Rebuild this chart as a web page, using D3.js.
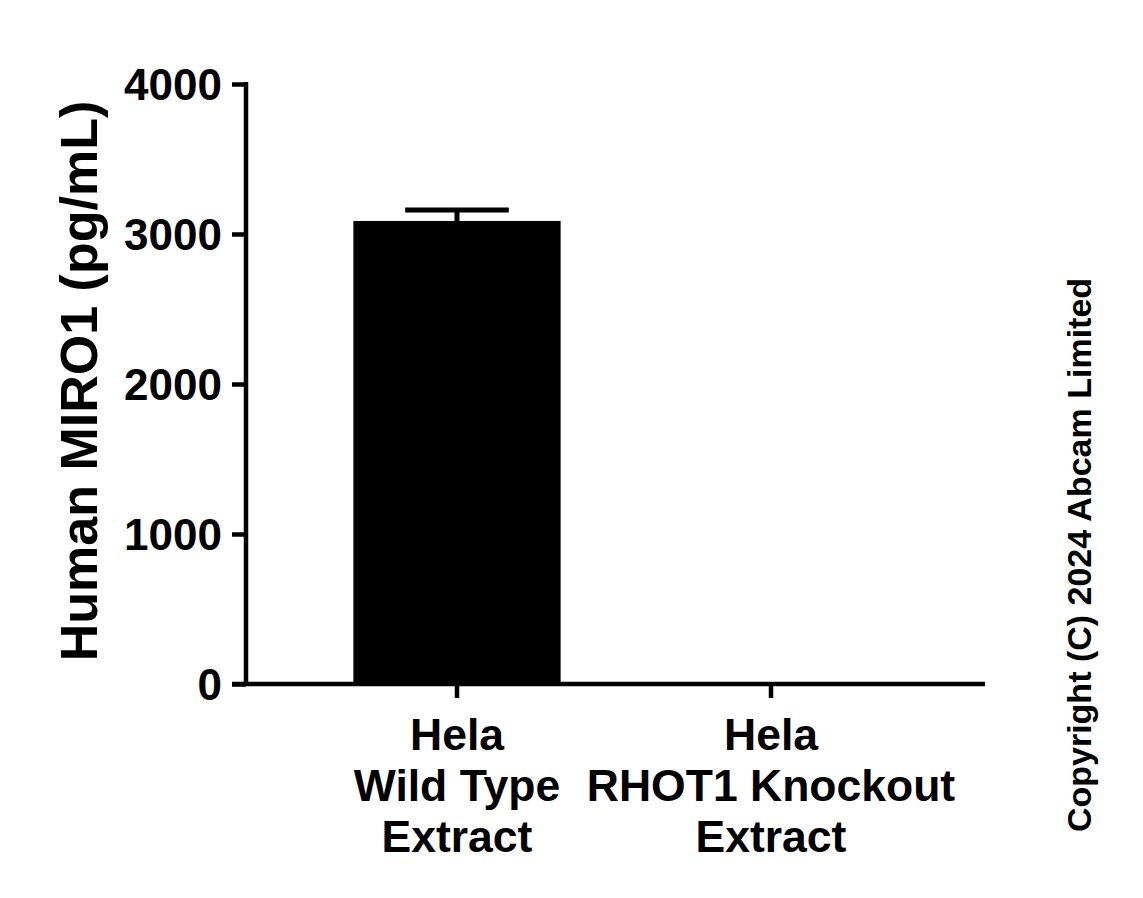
<!DOCTYPE html>
<html>
<head>
<meta charset="utf-8">
<script src="https://cdn.jsdelivr.net/npm/d3@7"></script>
<style>
  html, body { margin: 0; padding: 0; background: #fff; }
  text { font-family: "Liberation Sans", Arial, sans-serif; font-weight: bold; fill: #000; }
</style>
</head>
<body>
<div id="chart"></div>
<script>
// data
const categories = ["wt", "ko"];
const categoryLabels = [
  ["Hela", "Wild Type", "Extract"],
  ["Hela", "RHOT1 Knockout", "Extract"]
];
const values = [3087, 0];
const errors = [73, 0];
const yTicks = [0, 1000, 2000, 3000, 4000];

const width = 1143, height = 898;

const svg = d3.select("#chart").append("svg")
  .attr("width", width)
  .attr("height", height);

const x = d3.scaleBand()
  .domain(categories)
  .range([300, 928])
  .paddingInner(0.34)
  .paddingOuter(0.17);

const y = d3.scaleLinear()
  .domain([0, 4000])
  .range([684, 84]);

const axisX0 = 246, axisX1 = 985;
const lw = 4.5;

// bars
svg.append("g").selectAll("rect")
  .data(categories)
  .join("rect")
  .attr("x", d => x(d))
  .attr("width", x.bandwidth())
  .attr("y", (d, i) => y(values[i]))
  .attr("height", (d, i) => y(0) - y(values[i]))
  .attr("fill", "#000");

// error bars (upper only)
const eb = svg.append("g").attr("stroke", "#000").attr("stroke-width", 5);
categories.forEach((c, i) => {
  if (!errors[i]) return;
  const cx = x(c) + x.bandwidth() / 2;
  const top = y(values[i] + errors[i]);
  eb.append("line")
    .attr("x1", cx).attr("x2", cx)
    .attr("y1", y(values[i])).attr("y2", top);
  eb.append("line")
    .attr("x1", cx - x.bandwidth() / 4).attr("x2", cx + x.bandwidth() / 4)
    .attr("y1", top).attr("y2", top);
});

// y axis
const yAxis = svg.append("g")
  .attr("transform", `translate(${axisX0},0)`)
  .call(d3.axisLeft(y).tickValues(yTicks).tickSize(14).tickSizeOuter(0).tickPadding(10).tickFormat(d3.format("d")));
yAxis.select(".domain").attr("stroke-width", lw).attr("d", `M0,${y(4000) - 2}V${y(0)}`);
yAxis.selectAll(".tick line").attr("stroke-width", lw);
yAxis.selectAll(".tick text")
  .style("font-size", "44px")
  .style("font-family", "'Liberation Sans', Arial, sans-serif")
  .style("font-weight", "bold")
  .attr("dy", "0.36em");

// x axis
const xAxis = svg.append("g")
  .attr("transform", `translate(0,${y(0)})`)
  .call(d3.axisBottom(x).tickSize(14).tickSizeOuter(0).tickFormat(""));
xAxis.select(".domain").attr("stroke-width", lw).attr("d", `M${axisX0 - 14},0H${axisX1}`);
xAxis.selectAll(".tick line").attr("stroke-width", lw);

// category labels
const labelG = svg.append("g");
categories.forEach((c, i) => {
  const cx = x(c) + x.bandwidth() / 2;
  const t = labelG.append("text")
    .attr("text-anchor", "middle")
    .style("font-size", "44.5px");
  categoryLabels[i].forEach((line, j) => {
    t.append("tspan").attr("x", cx).attr("y", 750 + j * 51).text(line);
  });
});

// y axis title
svg.append("text")
  .attr("transform", "translate(97,381) rotate(-90)")
  .attr("text-anchor", "middle")
  .style("font-size", "52px")
  .text("Human MIRO1 (pg/mL)");

// copyright
svg.append("text")
  .attr("transform", "translate(1091,555) rotate(-90)")
  .attr("text-anchor", "middle")
  .style("font-size", "34px")
  .text("Copyright (C) 2024 Abcam Limited");
</script>
</body>
</html>
